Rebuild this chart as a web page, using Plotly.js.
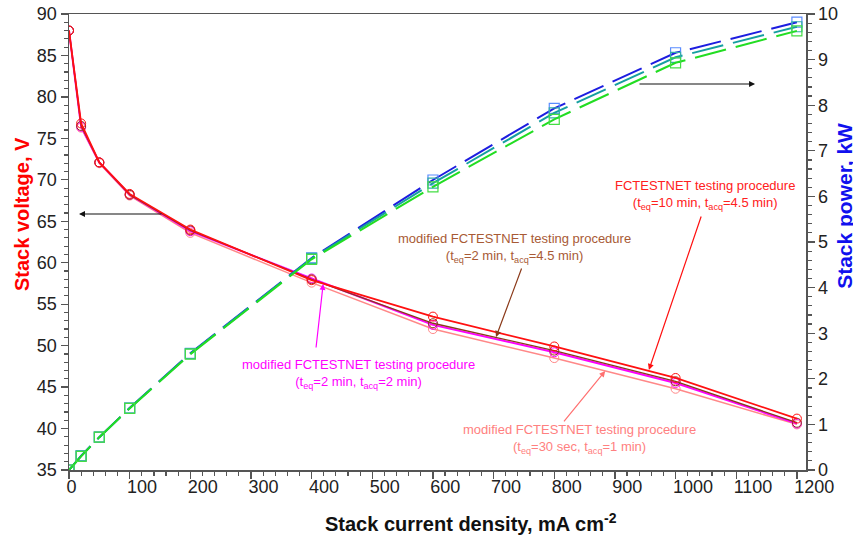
<!DOCTYPE html>
<html><head><meta charset="utf-8">
<script src="https://cdn.plot.ly/plotly-3.0.1.min.js"></script>
<style>html,body{margin:0;padding:0;background:#fff}#chart{width:853px;height:542px}</style>
</head><body><div id="chart"></div>
<script>
// current density, mA cm-2
const currentDensity = [0, 20, 50, 100, 200, 400, 600, 800, 1000, 1200];
// stack voltage, V
const vFctestnet = [88.0, 76.8, 72.1, 68.3, 64.0, 57.9, 53.5, 49.9, 46.1, 41.2];
const vMod2min45 = [88.0, 76.5, 72.1, 68.2, 63.9, 58.0, 52.7, 49.4, 45.7, 40.7];
const vMod2min2 = [88.0, 76.4, 72.1, 68.2, 63.8, 58.1, 52.5, 49.2, 45.5, 40.6];
const vMod30s1 = [88.0, 76.3, 72.0, 68.1, 63.6, 57.6, 52.0, 48.5, 44.8, 40.5];
// stack power, kW
const pBlue = [0, 0.31, 0.72, 1.36, 2.56, 4.65, 6.36, 7.93, 9.15, 9.82];
const pTeal = [0, 0.31, 0.72, 1.36, 2.55, 4.64, 6.29, 7.83, 9.05, 9.72];
const pGreen = [0, 0.30, 0.72, 1.35, 2.54, 4.62, 6.21, 7.69, 8.93, 9.63];

const labelRed = "FCTESTNET testing procedure<br>(t<sub>eq</sub>=10 min, t<sub>acq</sub>=4.5 min)";
const labelBrown = "modified FCTESTNET testing procedure<br>(t<sub>eq</sub>=2 min, t<sub>acq</sub>=4.5 min)";
const labelMagenta = "modified FCTESTNET testing procedure<br>(t<sub>eq</sub>=2 min, t<sub>acq</sub>=2 min)";
const labelSalmon = "modified FCTESTNET testing procedure<br>(t<sub>eq</sub>=30 sec, t<sub>acq</sub>=1 min)";

function vTrace(y, color, w) {
  return {x: currentDensity, y: y, type: 'scatter', mode: 'lines+markers',
    line: {color: color, width: w},
    marker: {symbol: 'circle-open', size: 9, color: color, line: {width: 1, color: color}},
    showlegend: false, hoverinfo: 'skip'};
}
function pTrace(y, color, mcolor) {
  return {x: currentDensity, y: y, type: 'scatter', mode: 'lines+markers', yaxis: 'y2',
    line: {color: color, width: 2, dash: '32px,10px'},
    marker: {symbol: 'square-open', size: 10, color: mcolor, line: {width: 1.2, color: mcolor}},
    showlegend: false, hoverinfo: 'skip'};
}

const traces = [
  pTrace(pBlue, '#1d1de0', '#5a8cff'),
  pTrace(pTeal, '#159f9f', '#33aaaa'),
  pTrace(pGreen, '#22dd22', '#44dd44'),
  vTrace(vMod30s1, '#ff8888', 1.5),
  vTrace(vMod2min2, '#ff00ff', 2),
  vTrace(vMod2min45, '#8b3a1a', 1.3),
  vTrace(vFctestnet, '#ff1010', 1.8)
];

const fnt = 'Liberation Sans, Arial, sans-serif';
function arrow(x, y, ax, ay, color) {
  return {x: x, y: y, ax: ax, ay: ay, xref: 'x', yref: 'y', axref: 'x', ayref: 'y',
    text: '', showarrow: true, arrowhead: 2, arrowsize: 1, arrowwidth: 1.2, arrowcolor: color};
}
function label(x, y, text, color) {
  return {x: x, y: y, xref: 'x', yref: 'y', text: text, showarrow: false, align: 'center',
    xanchor: 'center', yanchor: 'middle', font: {family: fnt, size: 13, color: color}};
}

const layout = {
  width: 853, height: 542,
  margin: {l: 69, r: 47, t: 14, b: 72, pad: 0},
  paper_bgcolor: '#fff', plot_bgcolor: '#fff',
  font: {family: fnt, size: 18, color: '#222'},
  xaxis: {range: [0, 1215], tick0: 0, dtick: 100, showgrid: false, zeroline: false,
    showline: true, linecolor: '#555', linewidth: 1.5, mirror: true,
    ticks: 'outside', ticklen: 7, tickwidth: 1.3, tickcolor: '#555',
    ticklabelposition: 'outside right', ticklabelshift: -4,
    minor: {dtick: 20, ticklen: 4, tickwidth: 1.2, tickcolor: '#555', showgrid: false},
    tickfont: {size: 18, color: '#222'}},
  yaxis: {range: [35, 90], tick0: 35, dtick: 5, showgrid: false, zeroline: false,
    showline: true, linecolor: '#555', linewidth: 1.5,
    ticks: 'outside', ticklen: 7, tickwidth: 1.3, tickcolor: '#555',
    minor: {dtick: 1, ticklen: 4, tickwidth: 1.2, tickcolor: '#555', showgrid: false},
    tickfont: {size: 18, color: '#222'}},
  yaxis2: {range: [0, 10], tick0: 0, dtick: 1, overlaying: 'y', side: 'right',
    showgrid: false, zeroline: false, showline: true, linecolor: '#555', linewidth: 1.5,
    ticks: 'outside', ticklen: 7, tickwidth: 1.3, tickcolor: '#555',
    minor: {dtick: 0.2, ticklen: 4, tickwidth: 1.2, tickcolor: '#555', showgrid: false},
    tickfont: {size: 18, color: '#222'}},
  annotations: [
    {xref: 'paper', yref: 'paper', x: -0.064, y: 0.561, textangle: -90, showarrow: false,
      text: '<b>Stack voltage, V</b>', font: {family: fnt, size: 20, color: '#ff0000'},
      xanchor: 'center', yanchor: 'middle'},
    {xref: 'paper', yref: 'paper', x: 1.052, y: 0.58, textangle: -90, showarrow: false,
      text: '<b>Stack power, kW</b>', font: {family: fnt, size: 21, color: '#1010ee'},
      xanchor: 'center', yanchor: 'middle'},
    {xref: 'paper', yref: 'paper', x: 0.545, y: -0.116, showarrow: false,
      text: '<b>Stack current density, mA cm<sup>-2</sup></b>', font: {family: fnt, size: 20, color: '#111'},
      xanchor: 'center', yanchor: 'middle'},
    arrow(16.5, 65.88, 155, 65.88, '#111'),
    arrow(1131, 81.56, 938, 81.56, '#111'),
    label(1048, 68.17, labelRed, '#ff2020'),
    arrow(956, 47.06, 1043, 65.76, '#ff1010'),
    label(735, 61.78, labelBrown, '#a85a35'),
    arrow(704, 51.04, 747, 59.49, '#8b3a1a'),
    label(478, 46.58, labelMagenta, '#ff00ff'),
    arrow(419, 57.44, 407, 49.6, '#ff00ff'),
    label(842, 38.74, labelSalmon, '#ff8080'),
    arrow(884, 46.94, 814, 40.67, '#ff7070')
  ]
};

Plotly.newPlot('chart', traces, layout, {displayModeBar: false, staticPlot: true});
</script>
</body></html>
